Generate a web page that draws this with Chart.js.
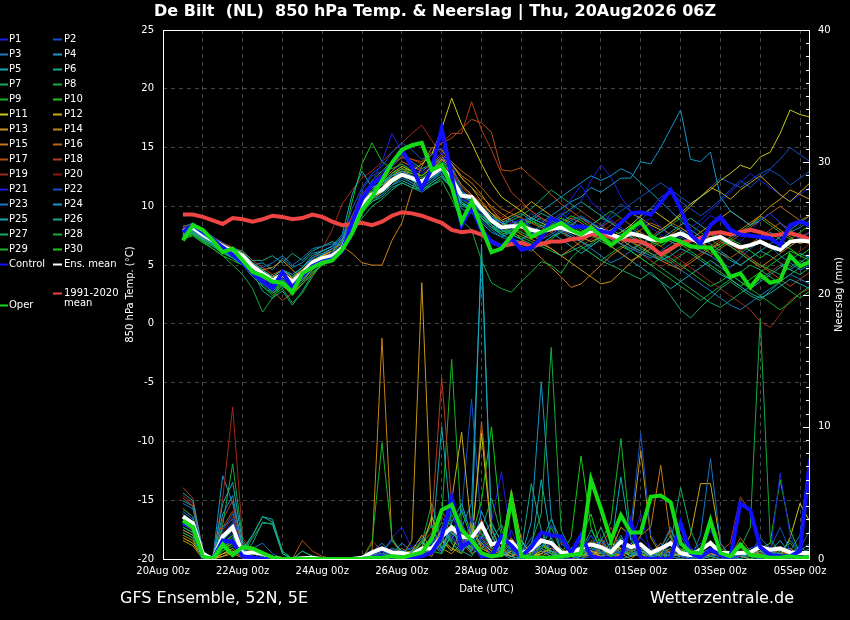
<!DOCTYPE html>
<html>
<head>
<meta charset="utf-8">
<title>De Bilt 850 hPa Temp. &amp; Neerslag</title>
<script src="https://cdn.jsdelivr.net/npm/chart.js@4.4.1/dist/chart.umd.min.js"></script>
<style>
  html, body { margin: 0; padding: 0; background: #000; }
  canvas { display: block; }
</style>
</head>
<body>
<canvas id="chart" width="850" height="620"></canvas>
<script>
// forecast hours after 20Aug 00z (6-hourly steps)
const hours = [12,18,24,30,36,42,48,54,60,66,72,78,84,90,96,102,108,114,120,126,132,138,144,150,156,162,168,174,180,186,192,198,
  204,210,216,222,228,234,240,246,252,258,264,270,276,282,288,294,300,306,312,318,324,330,336,342,348,354,360,366,372,378,384,390];
const xTickLabels = ['20Aug 00z','22Aug 00z','24Aug 00z','26Aug 00z','28Aug 00z','30Aug 00z','01Sep 00z','03Sep 00z','05Sep 00z'];

const memberNames = ['P1','P2','P3','P4','P5','P6','P7','P8','P9','P10','P11','P12','P13','P14','P15',
  'P16','P17','P18','P19','P20','P21','P22','P23','P24','P25','P26','P27','P28','P29','P30'];
const memberColors = ['#1e1ee6','#1450c8','#1478c8','#1496c8','#14aab4','#14aa8c','#14aa64','#14aa3c','#14b428','#14c814',
  '#c8c814','#c8aa14','#c89614','#c88214','#c87814','#be6414','#b45014','#b43c1e','#a0281e','#8c1414'];

// 850 hPa temperature (°C)
const climateTemp = [9.3,9.3,9.1,8.8,8.5,9.0,8.9,8.7, 8.9,9.2,9.1,8.9,9.0,9.3,9.1,8.7, 8.4,8.5,8.6,8.4,8.7,9.2,9.5,9.4,
  9.2,8.9,8.6,8.0,7.8,7.9,7.6,7.0, 6.6,6.8,6.9,6.6,6.8,7.0,7.0,7.2, 7.3,7.6,7.6,7.4,7.2,7.1,7.0,6.6, 5.9,6.4,6.9,7.1,7.3,7.7,7.8,7.6,
  7.8,8.0,7.8,7.5,7.6,7.7,7.5,7.2];
const meanTemp = [7.9,8.2,7.6,7.1,6.6,6.2,5.8,4.9, 4.3,3.7,4.2,3.6,4.3,5.2,5.6,5.8, 6.4,8.4,10.2,11.0,11.4,12.2,12.7,12.4,
  12.1,12.7,13.3,12.3,10.9,10.8,9.8,8.8, 8.2,8.3,8.3,8.0,7.8,8.1,8.2,7.9, 7.6,7.9,8.0,7.6,7.3,7.7,7.5,7.2, 7.1,7.4,7.7,7.3,6.9,7.2,7.4,6.9,
  6.5,6.7,7.0,6.6,6.3,7.0,7.1,7.0];
const controlTemp = [7.8,8.4,7.8,7.2,6.5,5.9,5.2,4.3, 3.6,3.0,4.4,3.1,4.1,4.9,5.3,5.5, 6.2,8.6,10.6,11.9,12.5,13.6,14.8,13.4,
  11.5,13.2,16.6,12.6,8.4,9.9,8.0,7.0, 6.6,7.3,6.3,6.5,7.3,9.0,8.6,8.2, 8.3,8.1,7.9,7.7,8.6,9.4,9.5,9.3, 10.3,11.4,9.8,7.6,6.8,8.4,9.1,8.0,
  7.6,7.5,7.4,7.3,6.7,8.4,8.7,8.4];
const operTemp = [7.1,8.4,8.0,7.1,6.1,6.4,5.4,4.4, 4.1,3.6,3.5,2.7,4.3,4.8,5.2,5.4, 6.3,7.7,9.7,10.8,12.2,13.7,14.8,15.2,
  15.4,13.1,13.5,11.7,8.7,10.4,8.2,6.1, 6.4,7.5,8.6,7.4,7.8,8.2,8.6,8.0, 7.6,8.2,7.5,6.7,7.3,8.1,8.7,7.5, 7.0,7.3,7.0,6.6,6.5,6.5,5.4,4.0,
  4.3,3.1,4.2,3.5,3.7,5.8,4.9,5.3];
const memberTemp = [
  [8.0,8.3,7.8,7.3,6.5,5.8,5.0,4.2, 3.8,3.4,3.9,3.3,4.0,5.0,5.6,6.0, 6.8,9.0,11.2,12.0,13.8,16.2,14.6,13.8, 13.0,13.8,14.6,12.8,10.6,10.2,9.4,8.8,
   8.0,8.6,8.9,8.2,7.6,8.4,9.2,10.6, 11.8,10.4,9.6,8.8,8.2,7.6,8.4,9.0, 8.2,7.4,6.8,7.6,8.4,9.2,8.8,7.8, 7.0,7.8,8.8,9.4,8.6,7.8,7.2,7.8], // P1
  [8.2,8.6,8.0,7.4,6.9,6.3,5.6,4.8, 4.0,3.2,3.8,3.0,3.8,4.8,5.4,6.2, 7.4,9.8,11.6,12.8,13.4,14.6,15.4,14.8, 14.0,14.4,15.0,13.6,11.4,10.6,9.8,9.0,
   8.4,8.0,8.6,9.4,8.8,8.2,7.8,8.4, 9.0,8.6,8.2,9.4,10.2,9.6,8.8,9.8, 10.8,11.2,10.4,9.8,9.2,9.8,10.6,11.4, 12.2,11.6,12.4,13.1,12.6,11.8,12.4,13.0], // P2
  [7.8,8.1,7.5,7.0,6.4,6.0,5.4,4.6, 4.8,5.2,5.8,5.0,5.6,6.4,6.6,6.8, 6.9,8.2,9.8,10.6,11.0,11.8,12.4,12.0, 11.6,12.2,13.0,12.2,11.0,10.4,9.6,9.0,
   8.6,8.8,8.4,7.8,7.2,7.6,8.2,8.8, 9.2,8.6,7.8,7.2,6.8,6.4,6.0,5.6, 6.2,6.8,7.4,6.8,6.2,5.8,5.2,4.8, 5.6,6.4,7.0,6.6,5.8,5.2,4.6,5.0], // P3
  [7.6,7.9,7.3,6.8,6.2,5.6,5.0,4.4, 3.9,3.5,4.1,3.7,4.4,5.4,5.9,6.4, 7.2,8.8,10.4,11.2,11.8,12.6,13.0,12.6, 12.2,12.8,13.4,12.6,11.2,10.8,10.0,9.2,
   8.6,8.4,8.8,9.0,8.6,9.2,9.8,10.4, 10.8,11.6,11.2,11.8,12.4,12.4,13.8,13.6, 15.0,16.6,18.2,14.0,13.8,14.6,10.8,9.6, 9.0,8.4,8.8,9.4,8.6,7.8,8.2,8.8], // P4
  [7.7,8.0,7.4,6.9,6.5,6.3,6.0,5.2, 4.6,4.0,4.6,4.0,4.8,5.8,6.2,6.6, 7.6,11.0,13.0,11.6,12.0,12.6,12.8,12.2, 11.8,12.4,13.0,11.8,10.4,9.8,9.0,8.2,
   7.6,7.2,7.0,6.6,6.8,7.4,7.8,7.4, 7.0,6.6,7.2,7.8,7.2,6.6,6.2,5.8, 5.4,5.8,6.4,6.0,5.4,4.8,4.2,3.8, 3.2,2.6,2.2,2.6,3.2,3.8,3.4,3.0], // P5
  [7.5,7.8,7.2,6.8,6.6,6.4,6.2,5.4, 5.4,5.8,5.2,6.0,5.4,6.2,6.6,7.0, 6.6,8.0,9.6,10.4,10.8,11.6,12.0,11.6, 11.2,11.8,12.4,11.6,10.2,10.0,9.2,8.4,
   7.8,8.0,8.2,8.8,9.4,9.0,8.4,8.0, 7.8,8.4,9.0,8.6,8.0,7.4,6.8,7.2, 7.8,8.4,8.0,7.4,6.8,6.4,6.0,5.4, 5.0,5.6,6.2,5.8,5.2,4.6,5.2,5.8], // P6
  [7.4,7.7,7.1,6.6,6.0,5.6,5.2,4.4, 3.6,2.6,3.2,2.8,3.6,4.6,5.2,5.6, 6.2,7.6,9.0,10.0,10.6,11.4,12.0,11.6, 11.4,12.0,12.6,11.6,10.0,9.8,9.2,8.6,
   8.0,7.6,7.2,6.8,6.6,6.2,5.8,6.2, 6.6,6.0,5.4,5.0,4.6,4.2,3.8,4.4, 3.6,2.4,1.2,0.5,1.4,2.2,3.0,3.6, 3.0,2.4,2.0,2.8,3.6,4.2,4.8,5.2], // P7
  [7.3,7.6,7.0,6.4,5.8,5.0,4.2,3.0, 1.0,2.2,3.4,2.4,3.4,4.4,5.0,5.4, 6.0,7.8,9.4,10.4,11.0,11.8,12.6,12.0, 11.4,11.8,12.2,10.6,8.8,8.0,5.4,3.5,
   3.0,2.7,3.6,4.4,5.3,5.0,4.3,5.6, 6.4,6.8,7.4,8.0,7.6,7.0,6.4,6.0, 5.6,5.2,5.8,6.4,7.0,7.6,7.2,6.6, 6.0,5.4,5.0,4.6,4.2,4.8,5.4,5.0], // P8
  [7.6,7.9,7.4,7.0,6.6,6.0,5.6,4.6, 3.2,2.4,3.0,1.8,2.6,4.0,5.2,6.0, 7.0,8.6,10.4,11.4,12.0,12.8,13.2,12.8, 12.4,13.0,13.6,12.4,10.6,10.0,9.0,8.2,
   7.8,8.2,8.6,8.2,7.8,8.4,9.0,8.6, 8.0,7.6,7.0,6.6,7.2,7.8,7.2,6.6, 6.0,5.6,5.0,4.4,3.8,3.2,3.6,4.2, 3.6,3.0,2.4,1.8,1.2,1.8,2.6,3.2], // P9
  [7.2,7.5,6.9,6.4,5.8,5.4,5.0,4.2, 3.4,2.8,3.6,3.2,3.8,4.8,5.4,5.8, 6.8,10.4,13.6,15.4,13.8,13.2,13.6,13.0, 12.6,13.2,13.8,12.8,11.2,10.6,9.4,8.4,
   7.6,8.0,8.4,8.8,8.4,8.0,8.6,9.2, 8.8,8.2,7.6,7.0,7.6,8.2,7.6,7.0, 6.6,7.2,7.8,7.2,6.6,6.0,6.6,7.2, 6.8,6.2,5.6,6.2,6.8,6.4,5.8,6.4], // P10
  [7.9,8.2,7.6,7.2,6.8,6.4,6.0,5.0, 4.4,4.0,4.6,3.9,4.6,5.4,5.8,6.2, 7.0,8.6,10.2,11.4,12.0,12.8,13.4,13.0, 13.6,14.4,16.6,19.2,17.0,15.4,13.6,12.0,
   10.8,10.2,9.6,9.0,8.6,8.2,7.8,8.4, 9.0,8.6,8.0,7.4,7.8,8.4,9.2,9.8, 9.2,8.6,9.4,10.2,10.8,11.4,12.2,12.8, 13.5,13.2,14.2,14.6,16.2,18.2,17.8,17.6], // P11
  [7.7,8.0,7.4,6.9,6.3,5.9,5.6,4.8, 4.2,3.8,4.2,3.6,4.2,5.0,5.4,5.6, 6.2,7.8,9.6,10.6,11.2,12.0,12.6,12.4, 12.2,13.0,14.0,13.2,11.8,11.0,10.2,9.4,
   8.8,9.2,9.6,10.4,9.8,9.2,8.6,8.0, 7.4,7.0,7.4,8.0,8.6,9.4,9.0,8.4, 8.0,8.6,9.2,10.0,10.8,11.6,11.2,10.6, 11.4,12.0,12.6,11.8,11.0,10.4,11.2,12.0], // P12
  [8.3,8.5,7.9,7.4,6.8,6.2,5.8,5.0, 4.6,4.8,5.4,4.6,3.8,4.6,5.4,6.2, 6.6,8.2,10.0,11.2,11.8,12.4,13.0,12.8, 12.6,13.2,14.0,13.6,12.4,11.6,10.4,9.4,
   8.6,8.2,7.6,7.2,6.8,6.4,5.8,5.2, 4.6,4.0,3.4,3.6,4.4,5.2,6.0,6.8, 7.4,7.0,6.6,7.2,7.8,8.4,9.0,9.6, 9.0,8.4,9.2,10.0,10.6,11.4,11.0,10.6], // P13
  [7.4,7.7,7.2,6.8,6.4,6.0,5.6,4.8, 4.2,3.8,4.4,3.8,4.4,5.2,5.6,5.8, 6.6,6.0,5.2,5.0,5.0,7.1,8.6,11.4, 13.4,15.0,14.8,13.6,12.4,11.6,10.8,10.0,
   9.4,8.8,8.2,7.6,7.0,6.4,5.8,6.4, 7.0,7.6,7.2,6.6,6.0,5.4,5.8,6.4, 7.0,7.6,8.2,7.6,7.0,6.4,6.8,7.4, 8.0,8.6,9.2,8.6,8.0,7.4,6.8,7.2], // P14
  [7.6,7.9,7.3,6.8,6.2,5.8,5.4,4.6, 3.6,4.2,3.2,2.6,3.4,4.2,5.0,5.8, 6.4,8.0,9.8,10.8,11.6,12.6,13.2,13.0, 12.6,13.4,14.2,13.6,12.6,12.0,11.0,9.8,
   8.8,8.0,7.2,6.4,5.6,4.8,4.0,3.1, 3.4,4.2,5.0,5.8,6.4,7.0,6.6,6.0, 5.4,5.0,4.6,5.2,5.8,6.4,7.0,6.6, 6.0,5.4,4.8,5.4,6.0,6.6,7.2,6.8], // P15
  [7.8,8.1,7.6,7.2,6.8,6.4,6.0,5.2, 4.6,4.0,4.2,3.6,4.2,5.0,5.4,5.8, 6.6,8.4,10.4,11.4,12.2,13.0,13.8,13.4, 13.0,13.6,14.4,13.8,13.0,12.4,11.6,10.6,
   9.8,9.4,9.0,8.6,8.2,7.8,8.4,9.0, 8.6,8.0,7.6,7.2,6.8,7.4,8.0,8.6, 8.2,7.6,7.0,6.6,6.2,5.8,6.4,7.0, 7.6,8.2,8.8,9.4,10.0,9.4,8.8,9.2], // P16
  [8.0,8.3,7.7,7.2,6.6,6.2,5.8,5.0, 3.4,2.8,2.0,2.6,3.6,4.6,5.8,6.4, 6.8,8.6,10.6,11.8,12.6,13.4,14.2,14.0, 13.8,14.6,15.4,15.8,16.6,17.4,17.1,16.3,
   13.1,13.0,13.3,12.5,11.8,11.0,10.2,9.6, 9.0,8.4,7.8,7.2,6.8,6.4,6.8,7.4, 8.0,8.6,8.2,7.6,7.0,6.4,6.0,5.6, 6.2,6.8,7.4,8.0,8.6,8.0,7.4,7.8], // P17
  [8.1,8.4,7.9,7.4,6.9,6.5,6.1,5.4, 4.8,4.2,4.6,4.0,4.6,5.4,5.8,6.2, 7.2,9.2,11.0,12.0,12.8,13.6,14.2,14.0, 13.6,14.4,15.4,16.2,16.2,18.9,16.5,14.8,
   12.8,11.2,10.4,9.6,9.0,8.6,8.0,7.4, 7.0,7.6,8.2,8.8,8.2,7.6,7.0,6.4, 6.0,5.4,4.8,5.4,6.0,6.6,7.2,6.8, 6.2,5.6,5.0,4.4,3.8,3.2,3.8,4.4], // P18
  [8.0,8.2,7.6,7.0,6.4,6.0,5.6,4.8, 4.2,3.6,4.0,3.4,4.2,5.4,6.4,8.0, 10.2,11.4,12.4,13.0,13.8,14.6,15.4,16.2, 16.9,15.6,14.4,13.0,11.6,10.8,10.0,9.4,
   9.0,9.6,10.2,9.6,9.0,8.4,7.8,7.2, 6.6,7.2,7.8,8.4,9.0,8.4,7.8,7.2, 6.6,6.0,5.4,4.8,4.2,3.6,3.0,2.4, 1.8,1.2,0.2,-0.3,0.8,2.0,2.6,3.0], // P19
  [7.9,8.2,7.6,7.1,6.6,6.2,5.8,5.0, 4.4,3.8,4.2,3.6,4.4,5.4,5.8,6.0, 6.6,8.0,9.8,10.8,11.4,12.2,12.8,12.6, 12.4,13.0,13.6,12.8,11.6,11.0,10.4,9.8,
   9.2,8.6,8.0,7.6,7.2,7.8,8.4,9.0, 9.6,9.0,8.4,7.8,7.2,6.6,6.0,5.4, 4.8,5.4,6.0,6.6,7.2,7.8,7.4,6.8, 6.2,5.6,5.0,4.4,5.0,5.6,6.2,6.8], // P20
  [8.1,8.4,7.8,7.2,6.6,6.0,5.4,4.6, 4.0,3.4,4.0,3.4,4.0,4.8,5.2,5.6, 6.4,8.6,10.6,11.6,12.2,13.0,13.6,13.2, 12.8,13.4,14.0,12.6,10.8,10.2,9.2,8.4,
   7.8,8.2,8.6,8.0,7.4,8.0,8.8,9.6, 10.4,12.2,13.5,12.5,10.8,9.6,8.8,8.2, 7.6,7.0,7.6,8.2,8.8,9.6,10.4,11.2, 12.0,12.8,12.2,11.6,11.0,10.4,11.0,11.6], // P21
  [7.9,8.2,7.7,7.2,6.7,6.2,5.7,5.0, 4.4,3.8,4.4,3.8,4.4,5.2,5.6,6.0, 6.8,9.0,11.4,12.6,13.0,13.6,14.2,13.6, 13.0,13.6,14.2,13.0,11.4,10.4,9.4,8.6,
   8.0,7.6,7.2,7.6,8.2,8.8,9.4,8.8, 8.2,7.8,8.4,9.0,9.6,10.2,10.8,11.4, 12.0,11.4,10.8,10.2,10.8,11.6,12.4,12.0, 11.6,12.2,12.8,13.2,14.0,15.0,14.4,13.8], // P22
  [7.6,7.9,7.3,6.8,6.2,5.8,5.4,4.6, 4.0,3.6,4.2,3.8,4.6,5.6,6.2,6.6, 7.4,9.2,10.8,11.6,12.0,12.6,13.0,12.4, 11.8,12.4,13.0,12.0,10.4,9.6,8.8,8.0,
   7.4,7.0,6.6,6.2,6.8,7.4,8.0,7.6, 7.0,6.4,5.8,5.2,5.6,6.2,6.8,6.4, 5.8,5.2,4.6,4.0,3.4,2.8,2.2,1.6, 1.2,1.8,2.4,3.0,3.6,4.2,3.8,3.4], // P23
  [7.7,8.0,7.5,7.0,6.5,6.1,5.8,5.0, 5.2,4.6,5.6,4.8,5.2,6.0,6.2,6.6, 7.1,8.8,10.6,11.4,11.8,12.4,12.8,12.2, 11.6,12.2,12.8,11.4,9.8,9.4,8.6,7.8,
   7.4,7.8,8.4,9.0,9.6,10.2,10.8,11.4, 12.0,12.6,12.2,12.6,13.2,12.8,12.0,11.2, 10.4,9.6,8.8,8.0,7.4,6.8,6.2,5.6, 5.0,5.6,6.2,6.8,7.4,8.0,8.6,9.2], // P24
  [7.9,8.2,7.7,7.2,6.8,6.4,6.0,5.2, 4.6,4.0,4.6,4.2,4.8,5.6,6.0,6.4, 7.2,8.6,10.0,10.8,11.2,11.8,12.2,11.8, 11.4,12.0,12.6,11.6,10.2,9.6,9.0,8.4,
   8.0,7.6,7.2,7.8,8.4,7.8,7.2,6.6, 6.0,6.6,7.2,6.6,6.0,5.4,4.8,4.2, 3.6,3.0,3.6,4.2,4.8,5.4,4.8,4.2, 3.6,3.0,3.6,4.2,4.8,5.4,6.0,5.6], // P25
  [7.4,7.7,7.1,6.6,6.2,5.8,5.4,4.4, 2.8,2.2,2.8,1.6,2.8,4.2,5.2,5.8, 6.8,8.4,10.0,11.0,11.6,12.4,12.8,12.4, 12.0,12.6,13.2,12.2,10.6,10.2,9.6,9.0,
   8.6,9.0,9.4,8.8,8.2,8.6,9.2,9.8, 10.4,9.8,9.2,8.6,8.0,7.4,7.0,6.6, 7.2,7.8,8.4,9.0,8.4,7.8,7.2,6.6, 6.0,6.6,7.2,7.8,7.2,6.6,7.2,7.8], // P26
  [7.5,7.8,7.2,6.7,6.1,5.6,5.0,4.0, 3.2,2.6,3.4,2.6,3.4,4.4,5.0,5.4, 6.2,8.2,10.6,12.2,13.0,13.8,14.4,13.8, 13.2,13.6,14.0,12.8,11.0,10.6,9.8,9.0,
   8.4,8.8,9.2,9.8,10.6,11.4,10.8,10.2, 9.6,9.0,8.4,7.8,7.2,6.6,6.0,5.4, 4.8,4.2,3.6,3.0,2.4,1.8,1.4,2.0, 2.6,3.2,3.8,4.4,5.0,4.6,4.2,4.8], // P27
  [7.8,8.1,7.5,7.0,6.4,5.8,5.2,4.2, 3.4,2.8,3.4,3.0,3.8,4.8,5.4,5.8, 6.6,8.4,10.2,11.2,11.8,12.6,13.0,12.6, 12.0,12.6,13.2,12.0,10.2,9.8,9.0,8.2,
   7.6,7.8,8.2,8.6,9.0,8.4,7.8,7.2, 6.6,6.0,5.4,6.0,6.6,6.2,5.6,5.0, 4.4,3.8,3.2,2.6,2.0,2.6,3.2,3.8, 4.4,5.0,4.6,4.0,3.4,2.8,2.2,2.8], // P28
  [7.3,7.6,7.0,6.6,6.2,5.8,5.4,4.6, 4.0,3.4,3.8,3.2,3.8,4.8,5.4,5.8, 6.4,8.0,9.8,10.8,11.4,12.2,12.8,12.4, 12.2,12.8,13.6,12.6,11.2,10.8,10.0,9.2,
   8.6,8.2,7.8,7.4,7.8,8.4,9.0,8.4, 7.8,8.4,9.0,9.6,9.0,8.4,7.8,7.2, 7.8,8.4,9.0,8.4,7.8,7.2,6.6,7.2, 7.8,8.4,9.0,8.4,7.8,7.2,7.8,8.4], // P29
  [7.6,7.9,7.3,6.8,6.2,5.8,5.4,4.4, 3.6,3.0,3.6,3.0,3.8,4.8,5.2,5.6, 6.4,8.2,10.2,11.2,11.8,12.6,13.2,12.8, 12.4,13.0,13.6,12.4,10.8,10.4,9.6,8.8,
   8.2,7.8,7.4,7.0,6.6,7.2,7.8,8.4, 9.0,8.6,8.0,7.4,6.8,6.2,5.6,5.0, 5.6,6.2,6.8,6.2,5.6,5.0,4.4,3.8, 3.2,3.8,4.4,5.0,5.6,6.2,5.8,5.4]  // P30
];

// precipitation per 6 h (mm)
const meanPrecip = [3.2,2.7,0.4,0,1.7,2.4,0.4,0.5, 0.4,0.1,0,0,0.05,0.1,0,0, 0,0,0.1,0.5,0.8,0.5,0.45,0.3,
  0.8,0.8,1.7,2.4,1.7,1.6,2.6,1.1, 1.3,1.3,0.45,0.7,1.4,1.2,0.5,0.45, 0.8,1.1,0.9,0.5,1.3,0.9,1.1,0.45, 0.8,1.2,0.45,0.3,0.7,1.2,0.45,0.45,
  0.45,0.5,0.9,0.7,0.8,0.5,0.45,0.45];
const controlPrecip = [2.7,2.4,0.1,0,1.4,1.3,0.2,0.1, 0,0,0,0,0,0,0,0, 0,0,0,0.1,0.2,0.1,0,0.1,
  0.2,0.5,1.7,4.6,0.9,1.4,0.2,0.2, 1.7,1.0,0.2,0.9,2.0,1.8,1.7,0.45, 1.8,0.2,0.05,0,0.1,2.8,0.1,0, 0,0,2.7,0.45,0.1,0.7,0.3,0.1,
  4.2,3.7,0.9,0.3,0.2,0.2,0.6,7.5];
const operPrecip = [2.9,2.4,0.2,0,1.1,0.3,0.9,0.8, 0.45,0.1,0,0,0,0,0,0, 0,0,0,0.1,0.1,0.2,0.1,0.3,
  0.5,1.5,3.7,4.1,2.2,1.4,0.45,0.2, 0.3,4.5,0.2,0.1,0.1,0.1,0.2,0.3, 0.4,6.0,3.8,1.4,3.3,2.0,2.0,4.7, 4.8,4.3,1.2,0.5,0.45,2.9,0.45,0.2,
  1.1,0.3,0.2,0.1,0.1,0.2,0.1,0.1];
const memberPrecip = [
  [2.8,2.2,0.2,0,1.2,2.0,0.3,0.2, 0.1,0,0,0,0,0,0,0, 0,0,0,0.3,0.6,0.2,0.1,0, 0.4,1.2,2.4,1.8,0.6,3.2,1.4,0.3,
   0.8,2.2,0.2,0,1.6,0.8,0.2,0, 0.4,1.8,0.6,0,0.2,1.2,3.4,0.4, 0,1.4,0.2,0,0.4,2.2,0.6,0, 0.2,0.8,1.2,0.4,6.5,1.8,0.2,0.6], // P1
  [3.6,3.0,0.4,0,2.2,3.4,0.6,0.4, 0.2,0,0,0,0,0,0,0, 0,0,0,0.2,0.4,0.8,0.2,0, 0.2,0.6,1.4,3.6,2.8,1.0,0.4,0.2,
   1.4,0.6,0,0.3,0.8,2.6,1.2,0.4, 0,0.2,1.6,0.8,0.4,2.4,9.5,1.8, 0.6,0.2,0,0.4,1.2,0.3,0,0.2, 0.6,0.2,0,0.8,2.4,0.6,0.2,0], // P2
  [4.2,3.8,0.5,0,1.8,2.6,0.5,0.6, 0.4,0.2,0,0,0,0,0,0, 0,0,0,0.5,1.2,0.4,0.6,0.8, 1.6,0.4,2.2,1.4,3.8,2.0,1.2,0.4,
   0.2,0.8,0.4,1.6,0.6,0.2,0,0.3, 1.2,0.4,0,0.6,1.8,0.4,0.2,0, 0.8,2.4,0.6,0,1.8,7.6,1.2,0.2, 0,0.4,1.6,0.8,0.2,0,0.6,1.2], // P3
  [3.0,2.6,0.3,0,3.4,4.8,0.8,0.2, 0,0,0,0,0,0,0,0, 0,0,0,0,0.2,0.6,0.4,0.2, 0.6,1.8,0.8,2.2,1.2,0.6,3.6,1.8,
   0.4,0,0.2,2.8,13.4,3.2,0.6,0.2, 0,0.6,1.4,0.4,0,0.2,0.8,0.2, 0,0.4,1.2,0.2,0,0.6,0.2,0, 0.4,0.2,0,0.6,1.4,0.4,0,0.2], // P4
  [5.0,4.4,0.6,0,4.2,5.8,1.2,0.6, 0.4,0.2,0,0,0,0,0,0, 0,0,0,0.2,0.6,1.4,0.6,0.2, 0.4,1.0,0.6,2.8,4.2,1.8,23.8,2.4,
   0.6,0.2,0,0.8,1.4,0.6,0.2,0, 0.3,1.2,0.4,0.8,6.2,1.4,0.6,0.2, 0,0.4,0.2,0.6,0,0.2,0.4,0, 0,0.6,1.2,0.4,0.2,0,0.4,0.8], // P5
  [3.4,2.8,0.2,0,0.8,1.6,0.6,1.8, 3.2,2.8,0.4,0,0,0,0,0, 0,0,0,0.4,0.2,0,0.2,0.6, 0.8,0.4,1.8,2.4,0.6,0.2,1.6,2.8,
   1.2,0.4,0.6,5.7,2.2,0.4,0.2,0.6, 0.2,0.8,2.4,0.6,1.6,0.4,0.2,0, 0.6,1.8,0.4,0,0.2,0.8,0.2,0.4, 1.0,0.2,0.6,0.2,0.4,1.4,0.6,0], // P6
  [2.4,2.0,0.2,0,1.4,2.2,0.4,1.6, 2.7,2.7,0.6,0,0.6,0.2,0,0, 0,0,0,0.2,0.8,0.2,0,0.4, 1.2,2.6,0.8,1.6,2.2,0.4,0.8,1.4,
   2.6,0.8,0.2,0,1.2,3.0,1.4,0.4, 0.8,0.2,0,1.4,0.6,0.2,0.8,0.4, 0.2,1.2,5.4,2.2,0.4,0,0.2,0.6, 0.4,0,0.2,0.6,0.2,0.4,1.0,0.2], // P7
  [2.0,1.6,0.1,0,2.6,7.2,1.4,0.4, 0.2,0,0,0,0,0,0,0, 0,0,0,0,0.4,0.6,0.2,0, 0.2,0.8,1.2,3.4,1.6,0.8,2.2,4.6,
   1.8,0.6,0.2,0.4,0.8,0.4,0,0.2, 0.6,1.8,0.4,0.2,1.2,0.6,0.2,0, 0.4,0.8,0,0.2,0.6,1.4,0.6,0.2, 0.8,2.4,18.2,1.6,0.4,0.2,0,0.4], // P8
  [3.8,3.2,0.4,0,1.0,1.8,0.2,0.2, 0,0,0,0,0,0,0,0, 0,0,0,1.2,8.8,1.6,0.4,0.2, 0.6,1.4,2.8,1.2,0.4,1.8,2.6,0.8,
   0.4,1.2,0.6,0.2,0.8,2.4,0.6,0.2, 0,0.6,1.4,2.8,9.1,1.6,0.4,0.2, 0.6,0.2,0,0.4,0.8,0.2,0,0.2, 0.4,0.8,0.2,0,0.6,1.2,0.4,0], // P9
  [2.6,2.4,0.3,0,0.6,1.2,0.2,0.2, 0,0,0,0,0,0,0,0, 0,0,0,0.2,0.4,0.2,0.6,0.4, 1.4,0.6,0.4,2.0,3.6,1.6,4.4,10.0,
   2.2,0.6,0,0.4,1.0,0.6,0.2,0.4, 1.6,3.4,0.8,0.2,0.6,0.4,1.2,0.6, 0.2,0.4,0.8,0.2,0,0.6,0.4,0.2, 0,0.4,0.8,1.2,6.0,2.2,0.4,0.2], // P10
  [1.6,1.2,0.1,0,0.4,0.8,0.1,0, 0,0,0,0,0,0,0,0, 0,0,0,0,0.2,0.4,0.2,0, 0.8,3.2,1.4,0.6,2.4,1.2,9.5,1.8,
   0.4,0.2,0.6,0.2,0.4,0.8,0.2,0, 0.2,0.6,0.4,1.2,0.8,0.2,0.4,0, 0.4,1.4,0.6,0.2,0.4,0.8,0.2,0, 0.2,0,0.6,0.4,0.2,1.6,4.2,2.8], // P11
  [2.2,1.8,0.2,0,0.2,0.6,0.2,0, 0,0,0,0,0,0,0,0, 0,0,0,0,0,0.2,0.4,0.6, 1.8,0.8,2.2,4.4,9.6,2.0,1.2,0.6,
   0.8,5.2,1.4,0.2,0.6,0.2,0.4,0.8, 1.4,0.6,0.2,0,0.4,1.2,0.6,0.2, 0.6,0.2,0.4,1.8,5.7,5.7,1.2,0.2, 0,0.4,0.2,0.6,0.8,0.2,0.4,0.6], // P12
  [1.4,1.0,0,0,0.4,0.6,0.2,0, 0,0,0,0,0,0,0,0, 0,0,0,0.2,0.4,0.8,0.2,1.4, 20.9,2.4,0.8,0.4,1.2,2.6,0.8,0.4,
   0.2,0.6,1.4,0.4,0.2,0.6,0.2,0, 0.4,0.2,0.8,0.6,2.4,1.8,8.2,1.6, 0.4,0.2,0,0.6,0.4,0.2,0.6,0.2, 0.4,0.2,0.8,0.4,0,0.2,0.6,0.4], // P13
  [1.8,1.4,0.1,0,0.2,0.4,0.1,0, 0,0,0,0,0,0,0,0, 0,0,0,0.6,16.7,1.4,0.4,0.2, 0.6,0.2,1.6,0.8,0.4,2.2,1.0,0.4,
   0.6,0.2,0,0.4,1.2,0.4,0.8,0.2, 0,0.4,0.2,0.8,0.4,0,0.6,0.4, 1.2,0.4,0.2,0,0.4,0.6,0.2,0, 0.2,0.6,0.4,0.2,0.8,0.4,0,0.2], // P14
  [2.6,2.2,0.2,0,0.8,1.2,0.3,0.1, 0,0,0,0,0,0,0,0, 0,0,0,0.4,0.8,0.2,0.4,0.6, 0.8,0.4,1.2,2.0,1.4,0.6,2.4,1.0,
   0.4,1.6,0.6,0.2,0.4,1.2,0.4,0.6, 1.4,0.6,0.2,0.4,0.8,0.6,1.8,2.4, 7.1,1.6,0.4,0.2,0,0.4,0.2,0.6, 0.4,0.2,0.6,0.8,0.2,0.4,0.6,0.2], // P15
  [3.2,2.6,0.3,0,1.6,2.4,0.6,0.4, 0.2,0,0,0,0,0,0,0, 0,0,0,0.2,0.2,0.4,0.8,0.4, 1.2,2.0,3.6,2.4,1.8,0.8,10.4,2.2,
   0.6,0.4,0.2,0.8,1.6,0.4,0.2,0, 0.6,1.4,0.8,0.2,0.4,1.2,0.4,0.2, 0.8,2.2,0.6,0.2,0.6,0.4,0.2,0, 0.6,0.4,0.2,0.6,0.2,0.8,0.4,0.2], // P16
  [4.6,4.0,0.5,0,2.4,3.6,0.8,0.6, 0.4,0.2,0,0,1.4,0.6,0.2,0, 0,0,0,0.3,0.6,0.2,0.4,0.2, 0.8,1.6,3.2,2.0,1.2,0.4,0.8,0.4,
   0.2,0.6,0.2,0,0.4,0.8,0.6,0.2, 0.4,0.8,1.6,0.4,0.2,0.6,0.8,0.2, 0.4,0.6,0.2,0,0.2,0.8,0.4,0.2, 1.6,0.6,0.2,0.4,0.8,0.2,0.6,0.4], // P17
  [5.4,4.6,0.6,0,3.0,4.4,1.0,0.4, 0.2,0,0,0,0,0,0,0, 0,0,0,0.6,0.4,0.2,0.2,0.6, 1.4,2.8,13.7,4.2,2.6,1.2,3.0,0.8,
   0.4,0.2,0.6,0.2,0.8,0.4,1.2,0.6, 0.2,0.4,0.8,2.4,0.6,0.4,0.2,0, 0.6,0.2,0.4,0.8,0.2,0.4,0.6,1.2, 4.7,3.6,0.8,0.2,0.4,0.6,0.2,0.4], // P18
  [4.8,4.2,0.4,0,4.6,11.5,1.6,0.6, 0.2,0,0,0,0,0,0,0, 0,0,0,1.4,0.6,0.2,0.4,0.2, 0.6,1.4,2.0,1.6,0.8,2.4,1.8,0.6,
   0.4,0.8,0.2,0.4,0.6,0.2,0.4,0.8, 0.6,0.2,1.2,0.4,0.8,0.2,0.6,0.4, 0.2,0.8,0.4,0.2,0.6,0.2,0,0.4, 0.8,0.2,0.4,1.2,0.6,0.2,0.4,0.2], // P19
  [3.8,3.2,0.3,0,2.0,3.2,0.6,0.4, 0.2,0,0,0,0,0,0,0, 0,0,0,0.2,0.4,0.6,0.2,0, 0.4,0.8,1.6,2.2,1.4,0.6,1.2,0.4,
   0.6,0.2,0.4,0.2,1.0,0.6,0.2,0.4, 0.8,0.4,0.2,0.6,1.4,0.4,0.2,0.6, 0.4,0.2,0.6,0.4,0.2,0.8,0.4,0.2, 0.4,0.6,0.2,0.8,0.4,0.2,0.6,0.4], // P20
  [2.2,1.8,0.2,0,1.0,1.6,0.4,0.2, 0,0,0,0,0,0,0,0, 0,0,0,0.2,0.4,1.6,2.4,0.8, 0.4,1.8,0.6,2.4,1.2,0.6,1.4,2.8,
   6.6,1.4,0.4,0.2,0.6,0.4,0.2,0.6, 0.4,0.8,0.4,0.2,0.6,0.4,1.6,0.8, 0.2,0.4,0.6,0.2,0.4,0.2,0.6,0.4, 0.2,0.6,0.4,0.2,0.8,0.4,0.2,0.6], // P21
  [3.2,2.8,0.3,0,1.8,2.8,0.4,0.2, 0,0,0,0,0,0,0,0, 0,0,0,0.4,0.2,0.6,0.4,0.2, 0.6,1.2,0.4,2.8,3.6,12.1,2.4,1.2,
   0.8,0.4,0.2,0.6,0.4,0.8,0.4,0.2, 0.6,0.4,1.2,0.6,0.4,0.8,0.2,0.6, 0.4,0.6,1.8,0.4,0.2,0.6,0.4,0.2, 0.4,0.2,0.6,0.8,0.4,0.2,0.8,2.2], // P22
  [3.6,3.0,0.4,0,2.4,3.0,0.6,0.8, 1.2,0.4,0,0,0,0,0,0, 0,0,0,0.2,0.6,0.4,1.2,0.6, 0.4,0.8,2.4,1.2,0.6,2.0,1.6,0.6,
   0.4,0.2,0.6,0.4,0.8,0.4,0.2,0.6, 0.4,1.2,0.6,0.2,0.8,0.4,0.6,0.2, 0.8,0.4,0.2,0.6,0.4,0.8,0.2,0.4, 0.6,0.4,0.8,0.2,0.4,0.6,1.8,8.0], // P23
  [4.4,4.0,0.5,0,6.3,4.2,0.8,0.6, 0.4,0.2,0,0,0,0,0,0, 0,0,0,0,0.4,0.8,0.6,0.2, 0.8,1.4,0.6,1.8,2.4,4.2,23.0,2.6,
   1.4,0.6,0.2,1.2,0.8,0.4,0.6,0.2, 0.4,0.8,0.2,0.6,1.4,0.8,0.4,0.2, 0.6,0.2,0.4,0.8,0.2,0.4,0.6,0.2, 0.4,0.8,0.2,0.6,0.4,0.2,0.6,0.4], // P24
  [3.4,2.8,0.3,0,1.4,2.6,0.8,1.8, 3.2,3.0,0.6,0,0,0,0,0, 0,0,0,0.2,0.4,0.2,0.6,0.4, 1.2,0.8,10.0,2.4,1.6,0.8,1.2,0.6,
   0.4,0.6,0.2,0.8,6.0,1.4,0.4,0.2, 0.6,0.4,0.8,0.2,0.6,0.4,0.2,0.8, 0.4,0.6,0.2,0.4,0.8,0.2,0.6,0.4, 0.2,0.6,0.4,0.2,0.6,0.8,0.2,0.4], // P25
  [2.8,2.4,0.2,0,0.8,1.4,0.4,1.2, 2.8,2.6,0.4,0,0,0,0,0, 0,0,0,0,0.2,0.4,0.2,0.6, 0.4,1.0,2.2,1.4,0.8,1.6,2.0,0.8,
   0.6,0.2,0.8,0.4,1.2,0.6,0.2,0.4, 0.8,0.4,0.2,0.6,0.4,1.0,0.6,0.2, 0.4,0.2,0.8,0.4,0.6,0.2,0.4,0.6, 0.2,0.4,0.6,0.8,0.2,0.4,0.6,0.2], // P26
  [2.4,2.0,0.2,0,1.6,2.6,0.6,0.4, 0.2,0,0,0,0.6,0.2,0,0, 0,0,0,0.2,0.6,0.4,0.2,0.4, 0.6,1.2,0.8,2.6,1.4,0.6,1.8,1.2,
   0.8,0.4,0.2,0.6,0.8,1.6,0.4,0.2, 0.6,2.2,0.8,0.4,0.6,0.2,0.8,0.4, 0.2,0.6,0.4,0.8,0.2,0.4,0.6,0.2, 0.4,0.6,0.8,0.4,0.2,0.6,0.4,0.2], // P27
  [2.0,1.6,0.1,0,0.6,1.0,0.2,0.2, 0,0,0,0,0,0,0,0, 0,0,0,0,0.2,0.4,0.2,0.6, 1.2,4.2,1.4,0.8,0.6,1.4,0.8,0.4,
   0.6,0.2,0.4,1.2,3.4,16.0,2.2,0.6, 0.4,0.8,0.6,0.2,0.4,0.8,0.2,0.6, 0.4,0.2,0.6,0.8,0.2,0.4,0.6,0.2, 0.6,0.4,0.2,0.8,0.4,0.2,0.6,0.4], // P28
  [2.6,2.2,0.2,0,1.2,1.8,0.4,0.2, 0,0,0,0,0,0,0,0, 0,0,0,0.4,0.6,0.2,0.4,0.2, 0.8,1.6,3.2,15.1,2.4,0.8,1.2,0.6,
   0.4,0.8,0.2,0.6,0.4,0.8,0.6,0.2, 0.6,0.4,1.4,0.6,0.8,0.4,0.6,0.2, 0.8,0.4,0.2,0.6,0.4,0.8,0.2,0.4, 0.6,0.2,0.4,0.8,0.6,0.4,0.2,0.6], // P29
  [3.0,2.6,0.3,0,1.4,2.2,0.4,0.4, 0.2,0,0,0,0,0,0,0, 0,0,0,0.2,0.4,0.6,0.2,0.4, 0.4,0.8,1.6,2.2,1.8,0.6,1.4,0.8,
   0.6,0.4,0.2,0.8,1.2,0.6,0.4,1.6, 7.8,2.4,0.6,0.2,0.8,0.4,0.6,0.2, 0.4,0.8,0.2,0.6,0.4,0.2,0.8,0.4, 0.2,0.6,0.4,0.8,0.2,0.6,0.4,0.2]  // P30
];

const FONT = "'DejaVu Sans', sans-serif";
const controlColor = '#1010ff';
const operColor = '#14dc14';
const meanColor = '#ffffff';
const climateColor = '#ee4444';

Chart.defaults.font.family = FONT;
Chart.defaults.font.size = 10;
Chart.defaults.color = '#ffffff';

function series(values) {
  return values.map((v, i) => ({x: hours[i], y: v}));
}

function line(label, values, color, width, axis, order) {
  return {label: label, data: series(values), borderColor: color, backgroundColor: color,
    borderWidth: width, yAxisID: axis, order: order, pointRadius: 0, tension: 0, fill: false};
}

const datasets = [];
memberTemp.forEach((vals, k) => datasets.push(line(memberNames[k], vals, memberColors[k % 20], 1, 'y', 10)));
memberPrecip.forEach((vals, k) => datasets.push(line(memberNames[k], vals, memberColors[k % 20], 1, 'y2', 10)));
datasets.push(line('1991-2020 mean', climateTemp, climateColor, 4, 'y', 4));
datasets.push(line('Ens. mean', meanTemp, meanColor, 4, 'y', 3));
datasets.push(line('Control', controlTemp, controlColor, 4, 'y', 2));
datasets.push(line('Oper', operTemp, operColor, 4, 'y', 1));
datasets.push(line('Ens. mean', meanPrecip, meanColor, 4, 'y2', 3));
datasets.push(line('Control', controlPrecip, controlColor, 4, 'y2', 2));
datasets.push(line('Oper', operPrecip, operColor, 4, 'y2', 1));

// black page, white frame, inner ticks on the precipitation axis and the loose texts
const decorations = {
  id: 'decorations',
  beforeDraw(chart) {
    const ctx = chart.ctx;
    ctx.save();
    ctx.fillStyle = '#000';
    ctx.fillRect(0, 0, chart.width, chart.height);
    ctx.restore();
  },
  afterDraw(chart) {
    const {ctx, chartArea: a} = chart;
    const y2 = chart.scales.y2;
    ctx.save();
    ctx.strokeStyle = '#ffffff';
    ctx.lineWidth = 1;
    ctx.strokeRect(a.left + 0.5, a.top + 0.5, a.right - a.left - 1, a.bottom - a.top);
    for (let mm = 0; mm <= 40; mm++) {
      const y = Math.round(y2.getPixelForValue(mm)) + 0.5;
      const len = mm % 10 === 0 ? 7 : 4;
      ctx.beginPath();
      ctx.moveTo(a.right - len, y);
      ctx.lineTo(a.right, y);
      ctx.stroke();
    }

    ctx.fillStyle = '#ffffff';
    ctx.textBaseline = 'middle';
    ctx.textAlign = 'center';
    ctx.font = 'bold 16px ' + FONT;
    ctx.fillText('De Bilt  (NL)  850 hPa Temp. & Neerslag | Thu, 20Aug2026 06Z', 435, 12);

    ctx.font = '16px ' + FONT;
    ctx.textAlign = 'left';
    ctx.fillText('GFS Ensemble, 52N, 5E', 120, 599);
    ctx.textAlign = 'right';
    ctx.fillText('Wetterzentrale.de', 794, 599);

    ctx.font = '10px ' + FONT;
    ctx.textAlign = 'center';
    ctx.translate(839, (a.top + a.bottom) / 2);
    ctx.rotate(-Math.PI / 2);
    ctx.fillText('Neerslag (mm)', 0, 0);
    ctx.restore();
  }
};

// two-column legend on the left side
const sideLegend = {
  id: 'sideLegend',
  afterDraw(chart) {
    const ctx = chart.ctx;
    const cols = [{x: 0, len: 8, tx: 9}, {x: 53, len: 9, tx: 64}];
    const entry = (col, y, color, lines) => {
      const c = cols[col];
      ctx.strokeStyle = color;
      ctx.beginPath();
      ctx.moveTo(c.x, y + 0.5);
      ctx.lineTo(c.x + c.len, y + 0.5);
      ctx.stroke();
      lines.forEach((t, j) => ctx.fillText(t, c.tx, y + j * 10));
    };
    ctx.save();
    ctx.font = '10px ' + FONT;
    ctx.fillStyle = '#ffffff';
    ctx.textBaseline = 'middle';
    ctx.textAlign = 'left';
    ctx.lineWidth = 2;
    memberNames.forEach((name, k) => entry(k % 2, 39 + 15 * Math.floor(k / 2), memberColors[k % 20], [name]));
    entry(0, 264, controlColor, ['Control']);
    entry(1, 264, meanColor, ['Ens. mean']);
    entry(1, 293, climateColor, ['1991-2020', 'mean']);
    entry(0, 305, operColor, ['Oper']);
    ctx.restore();
  }
};

const gridStyle = {color: '#464646', lineWidth: 1, drawTicks: false};

new Chart(document.getElementById('chart'), {
  type: 'line',
  data: {datasets: datasets},
  options: {
    responsive: false,
    animation: false,
    devicePixelRatio: 1,
    layout: {padding: {left: 120, top: 30, right: 0, bottom: 0}},
    plugins: {legend: {display: false}, tooltip: {enabled: false}, title: {display: false}},
    scales: {
      x: {
        type: 'linear', min: 0, max: 390,
        grid: gridStyle,
        border: {display: false, dash: [4, 4]},
        ticks: {stepSize: 24, includeBounds: false, autoSkip: false, maxRotation: 0, padding: 6,
          callback: v => (v % 48 === 0 ? xTickLabels[v / 48] : '')},
        title: {display: true, text: 'Date (UTC)', padding: {top: 0, bottom: 25}},
        afterFit: s => { s.height = 61; }
      },
      y: {
        position: 'left', min: -20, max: 25,
        grid: gridStyle,
        border: {display: false, dash: [4, 4]},
        ticks: {stepSize: 5, padding: 9},
        title: {display: true, text: '850 hPa Temp. (°C)', padding: {top: 4, bottom: 0}},
        afterFit: s => { s.width = 43; }
      },
      y2: {
        position: 'right', min: 0, max: 40,
        grid: {drawOnChartArea: false, drawTicks: false},
        border: {display: false},
        ticks: {stepSize: 10, padding: 8},
        afterFit: s => { s.width = 40; }
      }
    }
  },
  plugins: [decorations, sideLegend]
});
</script>
</body>
</html>
